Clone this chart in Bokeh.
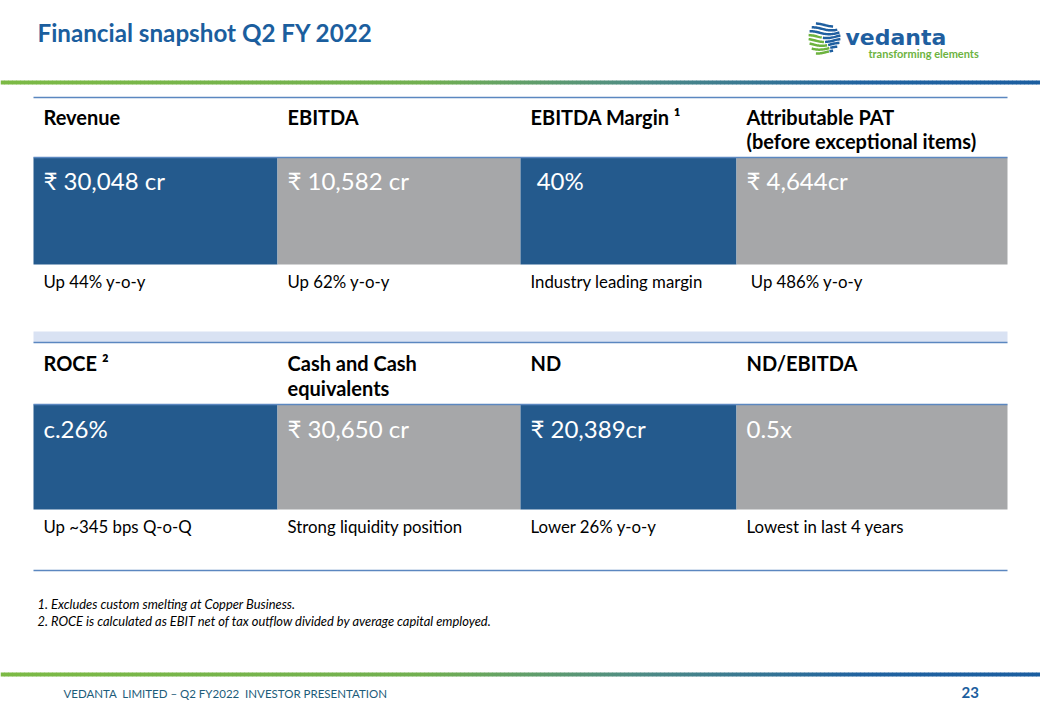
import numpy as np
from bokeh.plotting import figure
from bokeh.models import Range1d
from bokeh.core.properties import value
from bokeh.embed import file_html
from bokeh.resources import INLINE

# ---------------- data ----------------
title = "Financial snapshot Q2 FY 2022"
headers_1 = ["Revenue", "EBITDA", "EBITDA Margin \u00b9", "Attributable PAT\n(before exceptional items)"]
values_1 = ["\u20b9 30,048 cr", "\u20b9 10,582 cr", "\u00a040%", "\u20b9 4,644cr"]
notes_1 = ["Up 44% y-o-y", "Up 62% y-o-y", "Industry leading margin", "\u00a0Up 486% y-o-y"]
headers_2 = ["ROCE \u00b2", "Cash and Cash\nequivalents", "ND", "ND/EBITDA"]
values_2 = ["c.26%", "\u20b9 30,650 cr", "\u20b9 20,389cr", "0.5x"]
notes_2 = ["Up ~345 bps Q-o-Q", "Strong liquidity position", "Lower 26% y-o-y", "Lowest in last 4 years"]
footnotes = ["1. Excludes custom smelting at Copper Business.",
             "2. ROCE is calculated as EBIT net of tax outflow divided by average capital employed."]
footer = "VEDANTA\u00a0 LIMITED \u2013 Q2 FY2022\u00a0 INVESTOR PRESENTATION"
page_no = "23"
brand = "vedanta"
tagline = "transforming elements"

# ---------------- layout / style ----------------
FONT = "Lato"
BLUE_CELL = "#245A8D"
GRAY_CELL = "#A6A7A9"
LINE_BLUE = "#5B87C0"
BAND = "#D9E2F3"
TITLE_BLUE = "#1B5E9E"
col_edges = [33, 277, 520, 736, 1007]
cell_colors = [BLUE_CELL, GRAY_CELL, BLUE_CELL, GRAY_CELL]
text_dx = 10
W, H = 1040, 720

p = figure(width=W, height=H, x_range=Range1d(0, W), y_range=Range1d(H, 0),
           output_backend="svg", toolbar_location=None, min_border=0)
p.axis.visible = False
p.grid.visible = False
p.outline_line_color = None
p.background_fill_color = "white"


def hex2rgb(h):
    h = h.lstrip("#")
    return np.array([int(h[i:i + 2], 16) for i in (0, 2, 4)], dtype=float)


def gradient_line(y, width):
    stops_x = [0, 420, 640, 860, 1040]
    stops_c = [hex2rgb(c) for c in ["#7CBA45", "#72B050", "#4F8C85", "#2163A0", "#1B5EA0"]]
    n = 260
    xs = np.linspace(0, 1040, n + 1)
    x0s, x1s, cols = [], [], []
    for i in range(n):
        xm = (xs[i] + xs[i + 1]) / 2
        rgb = [np.interp(xm, stops_x, [c[k] for c in stops_c]) for k in range(3)]
        cols.append("#%02x%02x%02x" % tuple(int(round(v)) for v in rgb))
        x0s.append(xs[i])
        x1s.append(xs[i + 1] + 0.5)
    p.segment(x0=x0s, y0=[y] * n, x1=x1s, y1=[y] * n, line_color=cols, line_width=width)


def txt(x, y, labels, size, color="black", style="normal", font=FONT):
    p.text(x=x, y=y, text=labels, text_font=value(font), text_font_style=style,
           text_font_size=size, text_color=color, text_baseline="middle", text_align="left")


# title
txt([37], [32], [title], "24.2px", TITLE_BLUE, "bold")

# gradient rules
gradient_line(82, 4)
gradient_line(674, 4)

# logo
cx, cy, r = 824, 38, 16
for k, yy in enumerate(np.linspace(cy - r + 2.5, cy + r - 2.5, 8)):
    half = np.sqrt(max(r ** 2 - (yy - cy) ** 2, 0))
    xs = np.linspace(cx - half, cx + half, 30)
    ys = yy + 1.5 * np.sin((xs - cx) / 6.0 + k * 0.4)
    split = cx - half + (2 * half) * (0.15 + 0.09 * k)
    mask_g = xs <= split
    if k >= 3 and mask_g.sum() > 1:
        p.line(xs[mask_g], ys[mask_g], line_color="#6DB33F", line_width=2.5)
        p.line(xs[~mask_g], ys[~mask_g], line_color="#1F5FA0", line_width=2.5)
    else:
        p.line(xs, ys, line_color="#1F5FA0", line_width=2.5)
txt([845], [37], [brand], "22px", "#1F5FA0", "bold", "DejaVu Sans")
txt([868], [53], [tagline], "11px", "#6DB33F", "bold")

# cells
def cell_row(top, bottom):
    p.quad(left=col_edges[:-1], right=col_edges[1:], top=[top] * 4, bottom=[bottom] * 4,
           fill_color=cell_colors, line_color=None)

cell_row(157, 264)
cell_row(404, 509)

# band
p.quad(left=[33], right=[1007], top=[331], bottom=[342], fill_color=BAND, line_color=None)

# rules
for yy in [97, 157, 342, 404, 570]:
    p.segment(x0=[33], y0=[yy], x1=[1007], y1=[yy], line_color=LINE_BLUE, line_width=1.5)

col_x = [e + text_dx for e in col_edges[:-1]]


def header_text(labels, y, gap=24):
    xs, ys, ts = [], [], []
    for x, lab in zip(col_x, labels):
        for j, line in enumerate(lab.split("\n")):
            xs.append(x)
            ys.append(y + j * gap)
            ts.append(line)
    txt(xs, ys, ts, "20px", "black", "bold")


header_text(headers_1, 116)
txt(col_x, [180] * 4, values_1, "24px", "white")
txt(col_x, [281] * 4, notes_1, "16.8px")
header_text(headers_2, 362, 25)
txt(col_x, [428] * 4, values_2, "24px", "white")
txt(col_x, [526] * 4, notes_2, "16.8px")

# footnotes
txt([37, 37], [603, 620], footnotes, "12.9px", "black", "italic")

# footer
txt([63], [693], [footer], "11.5px", "#1D5C7A")
txt([961], [692], [page_no], "15px", TITLE_BLUE, "bold")

open("out.html", "w").write(file_html(p, INLINE))
